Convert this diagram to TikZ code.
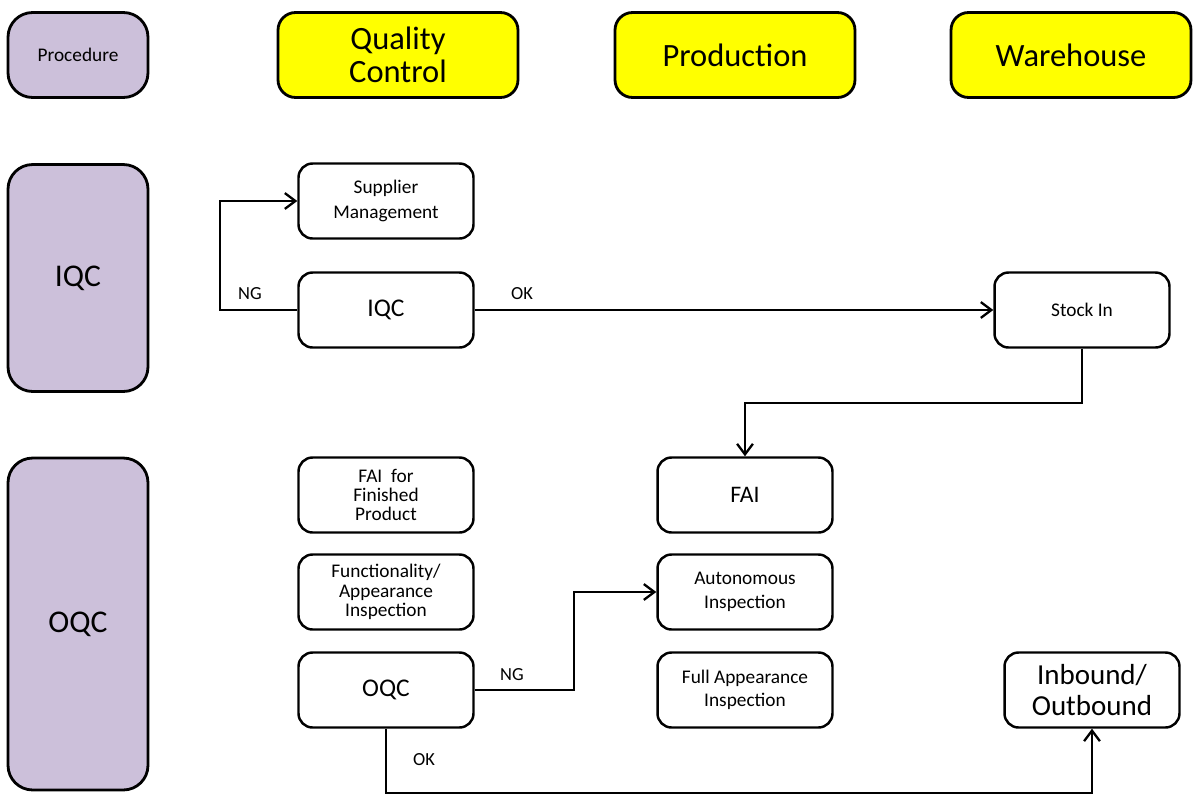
\documentclass[tikz,border=0pt]{standalone}
\usepackage{fontspec}
\setmainfont{Carlito}
\usetikzlibrary{arrows.meta}
\definecolor{lav}{HTML}{CCC0DA}
\definecolor{yel}{HTML}{FFFF00}
\begin{document}
\begin{tikzpicture}[x=0.02cm,y=-0.02cm,
  box/.style={draw,line width=1.4pt,rounded corners=8pt,minimum width=3.5cm,minimum height=1.5cm,align=center,font=\fontsize{11}{11}\selectfont,inner sep=1pt},
  head/.style={draw,line width=1.6pt,rounded corners=10pt,fill=yel,minimum width=4.8cm,minimum height=1.7cm,align=center,font=\fontsize{18.5}{18.5}\selectfont},
  lane/.style={draw,line width=1.6pt,rounded corners=14pt,fill=lav,minimum width=2.8cm,align=center},
  arr/.style={line width=1.3pt,-{Straight Barb[length=6pt,width=9pt]}},
  lbl/.style={font=\fontsize{10.5}{11}\selectfont}]
\useasboundingbox (0,0) rectangle (1198,809);
\node[lane,minimum height=1.7cm,font=\fontsize{11}{12}\selectfont] (proc) at (78,55) {Procedure};
\node[head] (qc) at (398,55) {Quality\\Control};
\node[head] (prod) at (735,55) {Production};
\node[head] (wh) at (1071,55) {Warehouse};
\node[lane,minimum height=4.54cm,font=\fontsize{18}{19}\selectfont] (liqc) at (78,278) {IQC};
\node[lane,minimum height=6.64cm,font=\fontsize{18}{19}\selectfont] (loqc) at (78,624) {OQC};
\node[box] (sup) at (386,201) {Supplier\\[3pt]Management};
\node[box,font=\fontsize{14.5}{15}\selectfont] (iqc) at (386,310) {IQC};
\node[box] (stock) at (1082,310) {Stock In};
\node[box] (faif) at (386,495) {FAI\ \ for\\Finished\\Product};
\node[box] (func) at (386,592) {Functionality/\\Appearance\\Inspection};
\node[box,font=\fontsize{14.5}{15}\selectfont] (oqc) at (386,690) {OQC};
\node[box,font=\fontsize{13.5}{14}\selectfont] (fai) at (745,495) {FAI};
\node[box] (auto) at (745,592) {Autonomous\\[3pt]Inspection};
\node[box] (full) at (745,690) {Full Appearance\\[2pt]Inspection};
\node[box,font=\fontsize{16.5}{18}\selectfont] (inb) at (1092,690) {Inbound/\\Outbound};
\coordinate (c1) at (220,310);
\draw[arr] (iqc.west) -- (c1) |- (sup.west);
\node[lbl] (ng1) at (250,294) {NG};
\draw[arr] (iqc) -- (stock);
\node[lbl] (ok1) at (522,294) {OK};
\coordinate (c2) at (1082,403);
\draw[arr] (stock.south) -- (c2) -| (fai.north);
\coordinate (c3) at (574,690);
\draw[arr] (oqc.east) -- (c3) |- (auto.west);
\node[lbl] (ng2) at (512,675) {NG};
\coordinate (c4) at (386,793);
\draw[arr] (oqc.south) -- (c4) -| (inb.south);
\node[lbl] (ok2) at (424,760) {OK};
\end{tikzpicture}
\end{document}
